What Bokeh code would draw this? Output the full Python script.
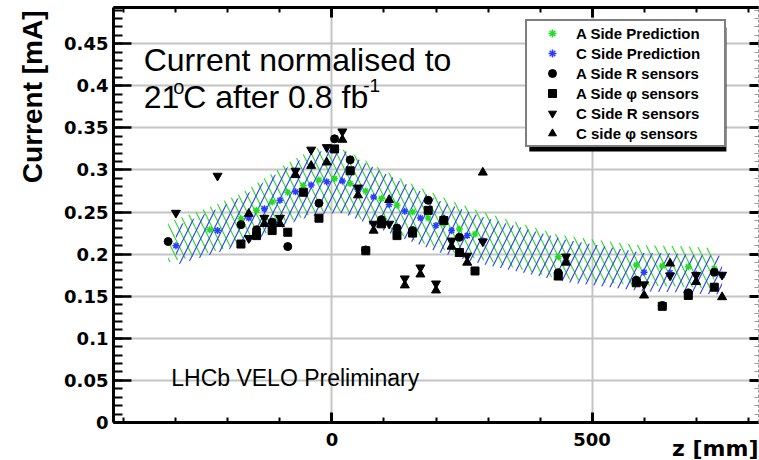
import numpy as np
from bokeh.plotting import figure
from bokeh.models import (Range1d, FixedTicker, LinearAxis, Label, Legend, LegendItem,
                          BoxAnnotation, Grid, Title)
from bokeh.embed import file_html
from bokeh.resources import INLINE

# ---------------- data ----------------
# Predictions (asterisks + hatched error bands)
a_pred_z = [-315, -235, -175, -145, -115, -85, -55, -25, 5, 35, 65, 95, 125, 155, 185, 215,
            245, 275, 435, 585, 635, 685, 735]
a_pred = [0.214, 0.229, 0.242, 0.252, 0.262, 0.2735, 0.2815, 0.288, 0.290, 0.284, 0.275, 0.266,
          0.258, 0.250, 0.243, 0.236, 0.230, 0.224, 0.197, 0.187, 0.186, 0.185, 0.183]
a_err = [0.024, 0.027, 0.030, 0.032, 0.034, 0.035, 0.037, 0.038, 0.038, 0.037, 0.036, 0.035,
         0.034, 0.033, 0.032, 0.031, 0.030, 0.029, 0.026, 0.024, 0.024, 0.024, 0.024]

c_pred_z = [-300, -220, -160, -130, -100, -70, -40, -10, 20, 50, 80, 110, 140, 170, 200, 230,
            260, 290, 450, 600, 650, 700, 750]
c_pred = [0.210, 0.228, 0.243, 0.254, 0.264, 0.274, 0.282, 0.286, 0.287, 0.277, 0.268, 0.259,
          0.251, 0.243, 0.234, 0.228, 0.222, 0.216, 0.192, 0.1785, 0.178, 0.176, 0.175]
c_err = [0.023, 0.026, 0.030, 0.032, 0.034, 0.035, 0.037, 0.038, 0.038, 0.036, 0.035, 0.034,
         0.033, 0.032, 0.031, 0.030, 0.029, 0.028, 0.025, 0.023, 0.023, 0.023, 0.023]

# Measured currents
a_r_z = [-315, -175, -145, -115, -85, -25, 5, 35, 65, 95, 125, 155, 185, 215, 245, 435, 585,
         635, 685, 735]
a_r_i = [0.215, 0.235, 0.229, 0.238, 0.209, 0.2605, 0.337, 0.312, 0.205, 0.241, 0.231, 0.228,
         0.264, 0.241, 0.220, 0.178, 0.169, 0.139, 0.154, 0.1785]

a_phi_z = [-175, -145, -115, -85, -55, -25, 5, 35, 65, 95, 125, 155, 185, 215, 245, 275, 435,
           585, 635, 685, 735]
a_phi_i = [0.212, 0.222, 0.228, 0.226, 0.2735, 0.2427, 0.325, 0.299, 0.204, 0.236, 0.222, 0.225,
           0.252, 0.240, 0.202, 0.180, 0.174, 0.166, 0.138, 0.151, 0.1607]

c_r_z = [-300, -220, -160, -130, -100, -70, -40, -10, 20, 50, 80, 110, 140, 170, 200, 230, 260,
         290, 450, 600, 650, 700, 750]
c_r_i = [0.249, 0.293, 0.219, 0.243, 0.243, 0.299, 0.324, 0.327, 0.3456, 0.279, 0.236, 0.236,
         0.171, 0.184, 0.165, 0.216, 0.198, 0.215, 0.197, 0.164, 0.1746, 0.175, 0.1754]

c_phi_z = [-160, -130, -100, -70, -40, -10, 20, 50, 80, 110, 140, 170, 200, 230, 260, 290, 450,
           600, 650, 700, 750]
c_phi_i = [0.248, 0.236, 0.236, 0.294, 0.305, 0.309, 0.336, 0.270, 0.228, 0.2645, 0.163, 0.176,
           0.157, 0.209, 0.190, 0.297, 0.190, 0.151, 0.189, 0.167, 0.149]

# Axis ticks
y_ticks = [0, 0.05, 0.1, 0.15, 0.2, 0.25, 0.3, 0.35, 0.4, 0.45]
y_tick_labels = ["0", "0.05", "0.1", "0.15", "0.2", "0.25", "0.3", "0.35", "0.4", "0.45"]
y_minor = [round(0.01 * k, 2) for k in range(0, 50)]
x_ticks = [0, 500]
x_tick_labels = ["0", "500"]
x_minor = [-400, -300, -200, -100, 0, 100, 200, 300, 400, 500, 600, 700, 800]

legend_labels = ["A Side Prediction", "C Side Prediction", "A Side R sensors",
                 "A Side \u03c6 sensors", "C Side R sensors", "C side \u03c6 sensors"]

GREEN = "#22dd22"
BLUE = "#2a3cff"
FONT = "Liberation Sans"

# ---------------- figure ----------------
p = figure(width=759, height=460, output_backend="svg", toolbar_location=None,
           x_range=Range1d(-420, 820), y_range=Range1d(0, 0.493),
           min_border_left=113, min_border_right=1, min_border_top=7, min_border_bottom=38,
           x_axis_location=None, y_axis_location=None)
p.outline_line_color = None
p.background_fill_color = "white"
p.border_fill_color = "white"
p.xgrid.visible = False
p.ygrid.visible = False

# grid lines
p.add_layout(Grid(dimension=0, ticker=FixedTicker(ticks=x_ticks),
                  grid_line_color="#c4c4c4", grid_line_width=2))
p.add_layout(Grid(dimension=1, ticker=FixedTicker(ticks=y_ticks),
                  grid_line_color="#c4c4c4", grid_line_width=2))

# axes
yt = FixedTicker(ticks=y_ticks, minor_ticks=y_minor)
xt = FixedTicker(ticks=x_ticks, minor_ticks=x_minor)

left = LinearAxis(ticker=yt, axis_line_width=3, major_tick_in=18, major_tick_out=0,
                  major_tick_line_width=2.5, minor_tick_in=9, minor_tick_out=0,
                  minor_tick_line_width=2, major_label_standoff=5,
                  major_label_text_font="DejaVu Sans", major_label_text_font_style="bold",
                  major_label_text_font_size="18px", major_label_text_color="black",
                  major_label_overrides=dict(zip(y_ticks, y_tick_labels)))
p.add_layout(left, "left")

bottom = LinearAxis(ticker=xt, axis_line_width=3, major_tick_in=10, major_tick_out=0,
                    major_tick_line_width=3, minor_tick_in=5, minor_tick_out=0,
                    minor_tick_line_width=2, major_label_standoff=10,
                    major_label_text_font="DejaVu Sans", major_label_text_font_style="bold",
                    major_label_text_font_size="18px", major_label_text_color="black",
                    major_label_overrides=dict(zip(x_ticks, x_tick_labels)))
p.add_layout(bottom, "below")

# top and right frame sides: tick marks only (no labels), drawn as unlabelled axes
top_minor = LinearAxis(ticker=FixedTicker(ticks=[], minor_ticks=x_minor), axis_line_width=3,
                       major_tick_in=0, major_tick_out=0, minor_tick_in=5, minor_tick_out=0,
                       minor_tick_line_width=2, major_label_standoff=0)
top_major = LinearAxis(ticker=FixedTicker(ticks=[], minor_ticks=x_ticks), axis_line_width=3,
                       major_tick_in=0, major_tick_out=0, minor_tick_in=10, minor_tick_out=0,
                       minor_tick_line_width=3, major_label_standoff=0)
p.add_layout(top_minor, "above")
p.add_layout(top_major, "above")

right_minor = LinearAxis(ticker=FixedTicker(ticks=[], minor_ticks=y_minor), axis_line_width=1,
                         axis_line_color="#999999", axis_line_dash="3 2",
                         major_tick_in=0, major_tick_out=0, minor_tick_in=4, minor_tick_out=0,
                         minor_tick_line_width=1, minor_tick_line_color="#999999",
                         major_label_standoff=0)
right_major = LinearAxis(ticker=FixedTicker(ticks=[], minor_ticks=y_ticks), axis_line_color=None,
                         major_tick_in=0, major_tick_out=0, minor_tick_in=9, minor_tick_out=0,
                         minor_tick_line_width=3, major_label_standoff=0)
p.add_layout(right_minor, "right")
p.add_layout(right_major, "right")

# axis titles (aligned to the top / right ends like the original)
p.add_layout(Title(text="Current [mA]", align="right", vertical_align="top",
                   standoff=24, offset=3, text_font=FONT, text_font_style="bold",
                   text_font_size="28px", text_color="black"), "left")
p.add_layout(Title(text="z [mm]", align="right", vertical_align="top",
                   standoff=-26, offset=0, text_font="DejaVu Sans", text_font_style="bold",
                   text_font_size="22px", text_color="black"), "below")

# hatched prediction bands
a_lo = np.array(a_pred) - np.array(a_err)
a_hi = np.array(a_pred) + np.array(a_err)
c_lo = np.array(c_pred) - np.array(c_err)
c_hi = np.array(c_pred) + np.array(c_err)
p.varea(x=a_pred_z, y1=a_lo, y2=a_hi, fill_alpha=0, hatch_pattern="\\",
        hatch_color=GREEN, hatch_scale=17, hatch_weight=1.1)
p.varea(x=c_pred_z, y1=c_lo, y2=c_hi, fill_alpha=0, hatch_pattern="/",
        hatch_color=BLUE, hatch_scale=17, hatch_weight=1.1)

# markers
r_ap = p.scatter(a_pred_z, a_pred, marker="asterisk", size=7, line_color=GREEN, line_width=1.5)
r_cp = p.scatter(c_pred_z, c_pred, marker="asterisk", size=7, line_color=BLUE, line_width=1.5)
r_ar = p.scatter(a_r_z, a_r_i, marker="circle", size=8, color="black")
r_aphi = p.scatter(a_phi_z, a_phi_i, marker="square", size=8, color="black")
r_cr = p.scatter(c_r_z, c_r_i, marker="inverted_triangle", size=9, color="black")
r_cphi = p.scatter(c_phi_z, c_phi_i, marker="triangle", size=9, color="black")

# texts
p.add_layout(Label(x=-362, y=0.4308, text="Current normalised to", text_font=FONT,
                   text_font_size="32px", text_color="black", text_baseline="alphabetic"))
p.add_layout(Label(x=-362, y=0.3872, text="21", text_font=FONT,
                   text_font_size="32px", text_color="black", text_baseline="alphabetic"))
p.add_layout(Label(x=-305, y=0.399, text="o", text_font=FONT,
                   text_font_size="20px", text_color="black", text_baseline="alphabetic"))
p.add_layout(Label(x=-286, y=0.3872, text="C after 0.8 fb", text_font=FONT,
                   text_font_size="32px", text_color="black", text_baseline="alphabetic"))
p.add_layout(Label(x=60, y=0.400, text="-1", text_font=FONT,
                   text_font_size="19px", text_color="black", text_baseline="alphabetic"))
p.add_layout(Label(x=-309, y=0.0526, text="LHCb VELO Preliminary", text_font=FONT,
                   text_font_size="23px", text_color="black", text_baseline="alphabetic"))

# legend shadow + legend
p.add_layout(BoxAnnotation(left=379.4, right=758.3, top=0.4691, bottom=0.3219,
                           fill_color="black", fill_alpha=1, line_color=None))
renderers = [r_ap, r_cp, r_ar, r_aphi, r_cr, r_cphi]
legend = Legend(items=[LegendItem(label=l, renderers=[r]) for l, r in zip(legend_labels, renderers)],
                location=(412, 275), border_line_color="black", border_line_width=2,
                background_fill_color="white", background_fill_alpha=1,
                padding=2, spacing=0, margin=0, glyph_width=46, glyph_height=20,
                label_height=20, label_standoff=1, label_width=146,
                label_text_font=FONT, label_text_font_style="bold",
                label_text_font_size="15px", label_text_color="black")
p.add_layout(legend, "center")

open("out.html", "w").write(file_html(p, INLINE))
